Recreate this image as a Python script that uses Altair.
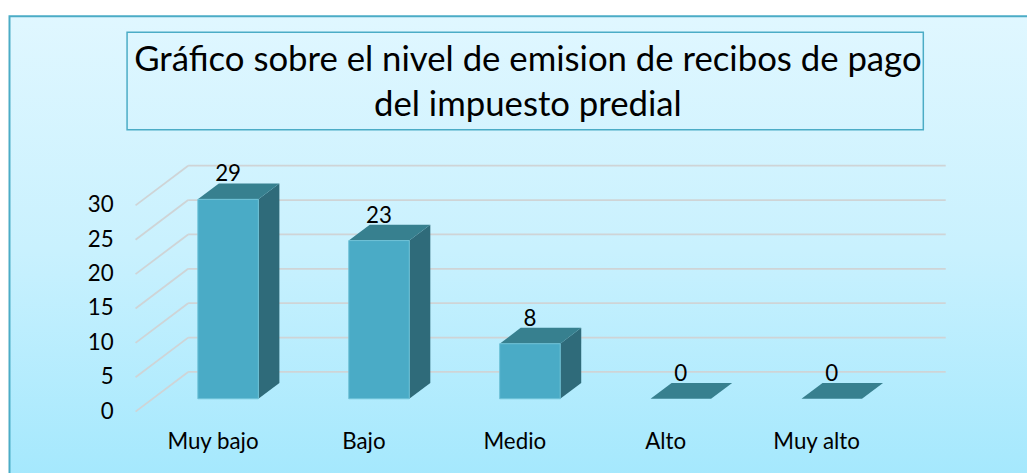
import altair as alt
import pandas as pd

# ---- data ----
categories = ["Muy bajo", "Bajo", "Medio", "Alto", "Muy alto"]
values = [29, 23, 8, 0, 0]
y_ticks = [0, 5, 10, 15, 20, 25, 30]
title_lines = ["Gráfico sobre el nivel de emision de recibos de pago",
               "del impuesto predial"]

# ---- layout / style constants ----
W, H = 1027, 465
SLOT_PX = 152.1      # px per category
UNIT_PX = 6.93       # px per value unit
DEPTH_DX = 53.0      # front plane shift left (px)
DEPTH_DY = 40.0      # front plane shift down (px)
HALF_W = 30.5 / SLOT_PX
D_FRONT, D_BACK = 0.325, 0.725
WALL_L, WALL_R = -0.5, 4.52
FONT = "Lato"
LABEL_SIZE = 22.5

X0_PX = 257.6   # view x of category 0 on back wall
Y0_PX = 365.0   # view y of value 0 on back wall
xs = alt.Scale(domain=[-X0_PX / SLOT_PX, (W - X0_PX) / SLOT_PX], nice=False, zero=False)
ys = alt.Scale(domain=[(Y0_PX - H) / UNIT_PX, Y0_PX / UNIT_PX], nice=False, zero=False)


def px(xc, d):
    return xc - DEPTH_DX * (1 - d) / SLOT_PX


def py(v, d):
    return v - DEPTH_DY * (1 - d) / UNIT_PX


def X(f="x"):
    return alt.X(f"{f}:Q", scale=xs, axis=None)


def Y(f="y"):
    return alt.Y(f"{f}:Q", scale=ys, axis=None)


# ---- derived tables ----
grid = pd.DataFrame({
    "v": y_ticks,
    "bx1": [px(WALL_L, 1)] * len(y_ticks),
    "bx2": [px(WALL_R, 1)] * len(y_ticks),
    "by": [py(v, 1) for v in y_ticks],
    "fx": [px(WALL_L, 0)] * len(y_ticks),
    "fy": [py(v, 0) for v in y_ticks],
    "lbl": [str(v) for v in y_ticks],
})

front_rows, side_rows, top_rows, lab_rows, cat_rows = [], [], [], [], []
for i, (c, v) in enumerate(zip(categories, values)):
    if v > 0:
        front_rows.append({"cat": c, "x": px(i - HALF_W, D_FRONT), "x2": px(i + HALF_W, D_FRONT),
                           "y": py(0, D_FRONT), "y2": py(v, D_FRONT)})
        for d in (D_FRONT, D_BACK):
            side_rows.append({"cat": c, "x": px(i + HALF_W, d), "lo": py(0, d), "hi": py(v, d)})
    yF, yB = py(v, D_FRONT), py(v, D_BACK)
    top_rows += [
        {"cat": c, "x": px(i - HALF_W, D_FRONT), "lo": yF, "hi": yF},
        {"cat": c, "x": px(i - HALF_W, D_BACK), "lo": yF, "hi": yB},
        {"cat": c, "x": px(i + HALF_W, D_FRONT), "lo": yF, "hi": yB},
        {"cat": c, "x": px(i + HALF_W, D_BACK), "lo": yB, "hi": yB},
    ]
    lab_rows.append({"cat": c, "x": px(i, D_FRONT), "y": yB, "lbl": str(v)})
    cat_rows.append({"cat": c, "x": px(i, 0), "y": py(0, 0)})

front = pd.DataFrame(front_rows)
side = pd.DataFrame(side_rows)
top = pd.DataFrame(top_rows)
labs = pd.DataFrame(lab_rows)
cats = pd.DataFrame(cat_rows)
one = pd.DataFrame({"k": [0]})

# ---- layers ----
bg = alt.Chart(one).mark_rect(
    color=alt.Gradient(gradient="linear",
                       stops=[alt.GradientStop(color="#E0F7FF", offset=0),
                              alt.GradientStop(color="#C9F1FE", offset=0.5),
                              alt.GradientStop(color="#A4E8FD", offset=1)],
                       x1=0, x2=0, y1=0, y2=1),
    stroke="#4BACC6", strokeWidth=2,
).encode(x=alt.value(1.5), x2=alt.value(W + 10), y=alt.value(6.5), y2=alt.value(H + 10))

title_box = alt.Chart(one).mark_rect(fill="#000000", fillOpacity=0, stroke="#4BACC6", strokeWidth=1.5).encode(
    x=alt.value(120), x2=alt.value(922.5), y=alt.value(22.5), y2=alt.value(121))

title_layers = []
for t, yb in zip(title_lines, [62, 107]):
    title_layers.append(
        alt.Chart(pd.DataFrame({"t": [t]})).mark_text(
            font=FONT, fontSize=35, color="#000000", align="center", baseline="alphabetic"
        ).encode(x=alt.value(524), y=alt.value(yb), text="t:N"))

back_lines = alt.Chart(grid).mark_rule(color="#CFD4D6", strokeWidth=1.8).encode(
    x=X("bx1"), x2="bx2", y=Y("by"))
side_lines = alt.Chart(grid).mark_rule(color="#CFD4D6", strokeWidth=1.8).encode(
    x=X("fx"), y=Y("fy"), x2="bx1", y2="by")

side_face = alt.Chart(side).mark_area(color="#2F6B7A", orient="vertical").encode(
    x=X("x"), y=Y("hi"), y2="lo", detail="cat:N")
top_face = alt.Chart(top).mark_area(color="#37808F", orient="vertical").encode(
    x=X("x"), y=Y("hi"), y2="lo", detail="cat:N")
front_face = alt.Chart(front).mark_rect(color="#4AABC6", stroke="#6FC3D8", strokeWidth=1).encode(
    x=X("x"), x2="x2", y=Y("y"), y2="y2")

val_text = alt.Chart(labs).mark_text(font=FONT, fontSize=LABEL_SIZE, color="#000000", baseline="alphabetic",
                                     dy=-2).encode(x=X("x"), y=Y("y"), text="lbl:N")
cat_text = alt.Chart(cats).mark_text(font=FONT, fontSize=LABEL_SIZE, color="#000000", baseline="alphabetic",
                                     dy=38, dx=2).encode(x=X("x"), y=Y("y"), text="cat:N")
tick_text = alt.Chart(grid).mark_text(font=FONT, fontSize=LABEL_SIZE, color="#000000", align="right",
                                      baseline="middle", dx=-22).encode(x=X("fx"), y=Y("fy"), text="lbl:N")

chart = alt.layer(
    bg, title_box, *title_layers, back_lines, side_lines,
    side_face, top_face, front_face, val_text, cat_text, tick_text,
).properties(
    width=W, height=H, autosize=alt.AutoSizeParams(type="none"),
    padding={"left": 0, "top": 0, "right": 0, "bottom": 0},
).configure_view(stroke=None)

chart.save("out.html", embed_options={"renderer": "svg", "actions": False})
